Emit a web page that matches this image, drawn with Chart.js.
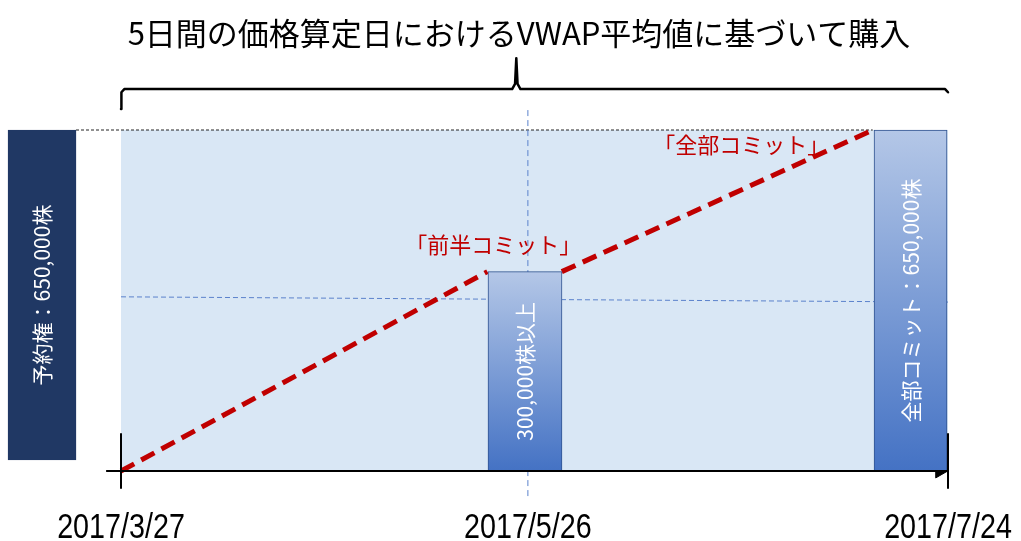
<!DOCTYPE html>
<html>
<head>
<meta charset="utf-8">
<script src="https://cdn.jsdelivr.net/npm/chart.js@4/dist/chart.umd.min.js"></script>
<style>
  html, body { margin: 0; padding: 0; background: #ffffff; }
  #wrap { width: 1021px; height: 541px; }
</style>
</head>
<body>
<div id="wrap"><canvas id="c" width="1021" height="541"></canvas></div>
<script>
// ---------- data ----------
const titleText = '5日間の価格算定日におけるVWAP平均値に基づいて購入';
const dateLabels = ['2017/3/27', '2017/5/26', '2017/7/24'];
const datePos = [0, 49.2, 100];                 // timeline units (3/27 = 0, 7/24 = 100)
const barLabels = ['予約権：650,000株', '300,000株以上', '全部コミット：650,000株'];
const barX = [-9.55, 48.85, 95.47];
const barLow = [21000, 0, 0];
const barHigh = [650000, 380000, 650000];
const firstHalfX = [0, 44.3];
const firstHalfY = [0, 380000];
const fullCommitX = [53.3, 90.9];
const fullCommitY = [380000, 650000];
const noteLabels = ['「前半コミット」', '「全部コミット」'];
const noteX = [45.0, 75.0];
const noteY = [431000, 623000];
const refLineX = [0, 100];
const refLineY = [332000, 322000];
const totalShares = 650000;
const periodStart = 0, periodEnd = 100;

// ---------- helpers ----------
const pts = (xs, ys) => xs.map((v, i) => ({ x: v, y: ys[i] }));
const line = (data, opts) => Object.assign({
  type: 'line', data, pointRadius: 0, borderWidth: 1, tension: 0,
  fill: false, clip: false, borderColor: '#000', backgroundColor: 'transparent'
}, opts);

const barFill = (i) => (ctx) => {
  if (i === 0) return '#203864';
  const chart = ctx.chart;
  if (!chart.chartArea) return '#4472c4';
  const y = chart.scales.y;
  const g = chart.ctx.createLinearGradient(0, y.getPixelForValue(barHigh[i]), 0, y.getPixelForValue(barLow[i]));
  g.addColorStop(0, '#b4c7e7');
  g.addColorStop(1, '#4472c4');
  return g;
};
const barWidths = [68, 74, 73];

const bars = barX.map((bx, i) => ({
  type: 'bar',
  label: barLabels[i],
  data: [{ x: bx, y: [barLow[i], barHigh[i]] }],
  backgroundColor: barFill(i),
  borderColor: i === 0 ? '#203864' : '#2f528f',
  borderWidth: 1,
  borderSkipped: false,
  barThickness: barWidths[i],
  grouped: false,
  clip: false,
  order: 5
}));

// brace above the period
const braceX = [periodStart, 0.05, 0.4, 47.3, 47.65, 47.8, 47.95, 48.3, 99.65, 100.0, 100.05];
const braceY = [690000, 722000, 728000, 728000, 738000, 787000, 738000, 728000, 728000, 722000, 690000];

const datasets = [
  // background period box
  line(pts([periodStart, periodEnd], [totalShares, totalShares]), { fill: 'origin', backgroundColor: '#d9e7f5', borderWidth: 0, order: 20 }),
  // reference dashed lines
  line(pts(refLineX, refLineY), { borderColor: '#5b82cc', borderDash: [5, 3], order: 15 }),
  line(pts([datePos[1], datePos[1]], [688000, -55000]), { borderColor: '#5b82cc', borderDash: [6, 4], order: 15 }),
  line(pts([-5.44, fullCommitX[1]], [totalShares, totalShares]), { borderColor: '#222', borderDash: [3, 2], order: 15 }),
  // commitment lines
  line(pts(firstHalfX, firstHalfY), { borderColor: '#c00000', borderWidth: 5, borderDash: [15, 8], order: 8 }),
  line(pts(fullCommitX, fullCommitY), { borderColor: '#c00000', borderWidth: 5, borderDash: [15, 8], order: 8 }),
  // arrow head of time axis (partly under the last bar)
  line([{ x: 99.0, y: 0 }], { showLine: false, pointRadius: 8, pointStyle: 'triangle', pointRotation: 90, pointBackgroundColor: '#000', pointBorderColor: '#000', order: 7 }),
  ...bars,
  // axis + ticks
  line(pts([-1.8, periodEnd], [0, 0]), { borderWidth: 2, order: 1 }),
  line(pts([periodStart, periodStart], [72000, -34000]), { borderWidth: 2, order: 1 }),
  line(pts([periodEnd, periodEnd], [72000, -34000]), { borderWidth: 2, order: 1 }),
  // brace
  line(pts(braceX, braceY), { borderWidth: 2.5, order: 1, borderJoinStyle: 'round', borderCapStyle: 'round' })
];

const textPlugin = {
  id: 'texts',
  afterDatasetsDraw(chart) {
    const { ctx, scales: { x, y } } = chart;
    ctx.save();
    ctx.textAlign = 'center';
    ctx.textBaseline = 'middle';
    // title
    ctx.fillStyle = '#000';
    ctx.font = '31px "Noto Sans CJK JP"';
    ctx.fillText(titleText, 519, 33);
    // dates
    dateLabels.forEach((t, i) => {
      const px = x.getPixelForValue(datePos[i]);
      ctx.save();
      ctx.translate(px, 528);
      ctx.scale(0.82, 1);
      ctx.font = '35px "Liberation Sans", Arial, sans-serif';
      ctx.fillStyle = '#000';
      ctx.fillText(t, 0, 0);
      ctx.restore();
    });
    // bar labels (vertical)
    chart.data.datasets.forEach((ds, di) => {
      if (ds.type !== 'bar') return;
      const el = chart.getDatasetMeta(di).data[0];
      const cx = el.x, cy = (el.y + el.base) / 2;
      ctx.save();
      ctx.translate(cx, cy);
      ctx.rotate(-Math.PI / 2);
      ctx.font = '21px "Noto Sans CJK JP"';
      ctx.fillStyle = '#ffffff';
      ctx.fillText(ds.label, 0, 0);
      ctx.restore();
    });
    // red notes
    ctx.font = '22px "Noto Sans CJK JP"';
    ctx.fillStyle = '#c00000';
    noteLabels.forEach((t, i) => {
      ctx.fillText(t, x.getPixelForValue(noteX[i]), y.getPixelForValue(noteY[i]));
    });
    ctx.restore();
  }
};

new Chart(document.getElementById('c'), {
  type: 'line',
  data: { datasets },
  options: {
    responsive: false,
    devicePixelRatio: 1,
    animation: false,
    layout: { padding: { left: 121, right: 73, top: 130, bottom: 70 } },
    plugins: { legend: { display: false }, tooltip: { enabled: false }, title: { display: false } },
    scales: {
      x: { type: 'linear', min: periodStart, max: periodEnd, display: false, offset: false },
      y: { type: 'linear', min: 0, max: totalShares, display: false }
    }
  },
  plugins: [textPlugin]
});
</script>
</body>
</html>
